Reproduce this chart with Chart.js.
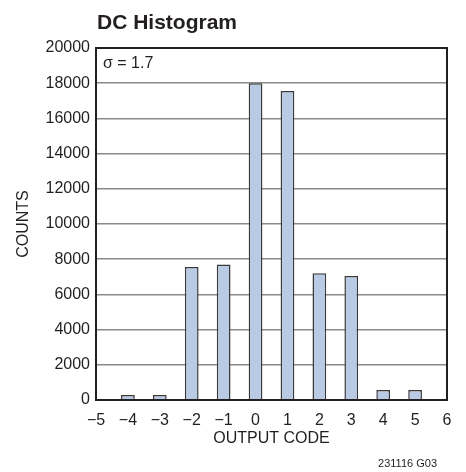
<!DOCTYPE html>
<html>
<head>
<meta charset="utf-8">
<title>DC Histogram</title>
<script src="https://cdn.jsdelivr.net/npm/chart.js@4/dist/chart.umd.min.js"></script>
<style>
  html, body { margin: 0; padding: 0; background: #fff; }
  #wrap { width: 466px; height: 472px; }
</style>
</head>
<body>
<div id="wrap"><canvas id="chart" width="466" height="472"></canvas></div>
<script>
// Datos
const outputCodes = [-4, -3, -2, -1, 0, 1, 2, 3, 4, 5];
const counts = [280, 280, 7550, 7700, 18000, 17550, 7200, 7050, 570, 570];
const xTicks = [-5, -4, -3, -2, -1, 0, 1, 2, 3, 4, 5, 6];
const yTicks = [0, 2000, 4000, 6000, 8000, 10000, 12000, 14000, 16000, 18000, 20000];

const chartTitle = 'DC Histogram';
const sigmaLabel = 'σ = 1.7';
const figureId = '231116 G03';

const FONT = '"Liberation Sans Narrow", "Liberation Sans", Arial, sans-serif';
const INK = '#231f20';

// marco, título y textos sueltos
const textos = {
  id: 'textos',
  afterDraw(chart) {
    const { ctx, chartArea: a } = chart;
    ctx.save();
    ctx.strokeStyle = INK;
    ctx.lineWidth = 2;
    ctx.strokeRect(a.left, a.top, a.right - a.left, a.bottom - a.top);

    ctx.fillStyle = INK;
    ctx.textBaseline = 'alphabetic';
    ctx.textAlign = 'left';
    ctx.font = 'bold 21px ' + FONT;
    ctx.fillText(chartTitle, a.left + 1, 29);

    ctx.font = '16px ' + FONT;
    ctx.fillText(sigmaLabel, a.left + 7, 68);

    ctx.textAlign = 'right';
    ctx.font = '11px ' + FONT;
    ctx.fillText(figureId, 437, 467);
    ctx.restore();
  }
};

const minus = v => String(v).replace('-', '\u2212');

new Chart(document.getElementById('chart'), {
  type: 'bar',
  data: {
    datasets: [{
      data: outputCodes.map((c, i) => ({ x: c, y: counts[i] })),
      backgroundColor: '#b9cbe4',
      borderColor: '#3a3a3a',
      borderWidth: 1.5,
      borderSkipped: 'bottom',
      barPercentage: 0.43,
      categoryPercentage: 1
    }]
  },
  options: {
    responsive: false,
    animation: false,
    layout: { padding: { left: 0, top: 48, right: 19, bottom: 0 } },
    plugins: { legend: { display: false }, tooltip: { enabled: false } },
    scales: {
      x: {
        type: 'linear',
        min: xTicks[0],
        max: xTicks[xTicks.length - 1],
        offset: false,
        afterBuildTicks: s => { s.ticks = xTicks.map(v => ({ value: v })); },
        afterFit: s => { s.height = 72; },
        grid: { display: false, offset: false, drawTicks: false },
        border: { display: false },
        ticks: { color: INK, font: { family: FONT, size: 16 }, padding: 11, maxRotation: 0, autoSkip: false, callback: v => minus(v) },
        title: { display: true, text: 'OUTPUT CODE', color: INK, font: { family: FONT, size: 16 }, padding: { top: 0, bottom: 24 } }
      },
      y: {
        min: yTicks[0],
        max: yTicks[yTicks.length - 1],
        afterBuildTicks: s => { s.ticks = yTicks.map(v => ({ value: v })); },
        afterFit: s => { s.width = 96; },
        grid: { color: '#8a8a8a', lineWidth: 1.5, drawTicks: false },
        border: { display: false },
        ticks: { color: INK, font: { family: FONT, size: 16 }, padding: 6, callback: v => String(v) },
        title: { display: true, text: 'COUNTS', color: INK, font: { family: FONT, size: 16 }, padding: { top: 14, bottom: 0 } }
      }
    }
  },
  plugins: [textos]
});
</script>
</body>
</html>
